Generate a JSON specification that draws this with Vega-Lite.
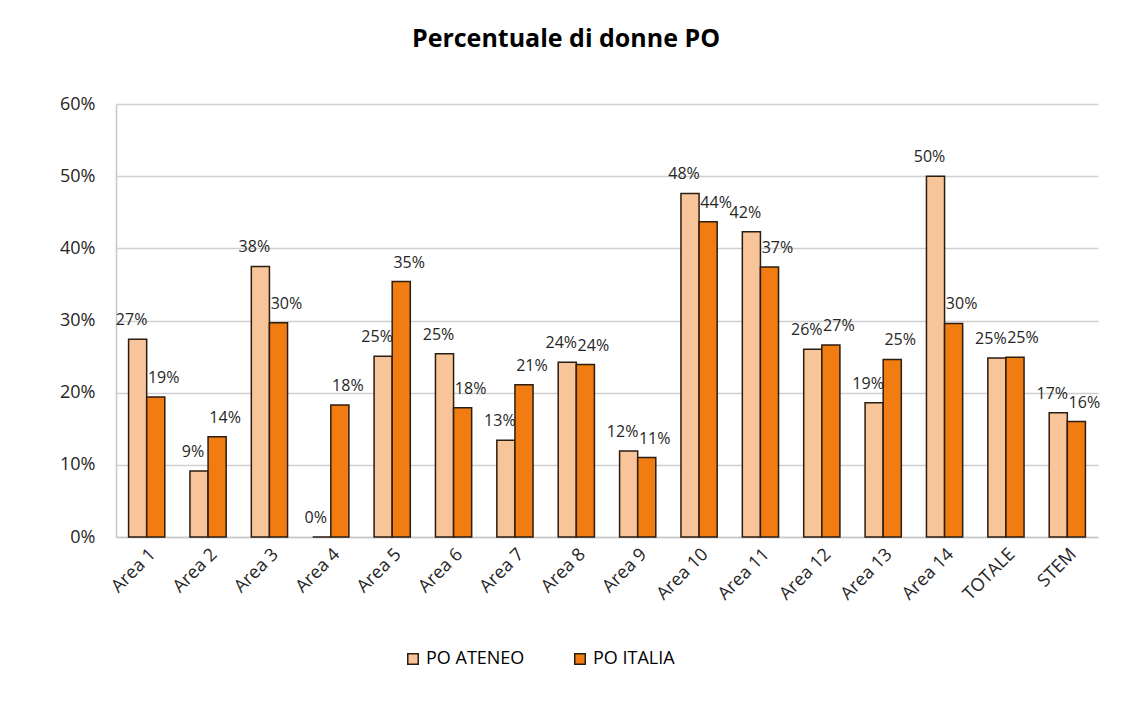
{
  "$schema": "https://vega.github.io/schema/vega-lite/v6.json",
  "autosize": {"type": "none"},
  "width": 982,
  "height": 433,
  "padding": {"left": 116, "top": 104, "right": 34, "bottom": 164},
  "background": "white",
  "title": {
    "text": "Percentuale di donne PO",
    "font": "Open Sans",
    "fontSize": 25,
    "fontWeight": "bold",
    "color": "#000000",
    "anchor": "middle",
    "dx": -41,
    "offset": 43
  },
  "data": {
    "values": [
      {"area": "Area 1", "serie": "PO ATENEO", "v": 0.274},
      {"area": "Area 1", "serie": "PO ITALIA", "v": 0.194},
      {"area": "Area 2", "serie": "PO ATENEO", "v": 0.0915},
      {"area": "Area 2", "serie": "PO ITALIA", "v": 0.139},
      {"area": "Area 3", "serie": "PO ATENEO", "v": 0.375},
      {"area": "Area 3", "serie": "PO ITALIA", "v": 0.297},
      {"area": "Area 4", "serie": "PO ATENEO", "v": 0.0},
      {"area": "Area 4", "serie": "PO ITALIA", "v": 0.183},
      {"area": "Area 5", "serie": "PO ATENEO", "v": 0.2505},
      {"area": "Area 5", "serie": "PO ITALIA", "v": 0.354},
      {"area": "Area 6", "serie": "PO ATENEO", "v": 0.254},
      {"area": "Area 6", "serie": "PO ITALIA", "v": 0.179},
      {"area": "Area 7", "serie": "PO ATENEO", "v": 0.134},
      {"area": "Area 7", "serie": "PO ITALIA", "v": 0.211},
      {"area": "Area 8", "serie": "PO ATENEO", "v": 0.242},
      {"area": "Area 8", "serie": "PO ITALIA", "v": 0.239},
      {"area": "Area 9", "serie": "PO ATENEO", "v": 0.119},
      {"area": "Area 9", "serie": "PO ITALIA", "v": 0.11},
      {"area": "Area 10", "serie": "PO ATENEO", "v": 0.476},
      {"area": "Area 10", "serie": "PO ITALIA", "v": 0.437},
      {"area": "Area 11", "serie": "PO ATENEO", "v": 0.423},
      {"area": "Area 11", "serie": "PO ITALIA", "v": 0.374},
      {"area": "Area 12", "serie": "PO ATENEO", "v": 0.26},
      {"area": "Area 12", "serie": "PO ITALIA", "v": 0.266},
      {"area": "Area 13", "serie": "PO ATENEO", "v": 0.186},
      {"area": "Area 13", "serie": "PO ITALIA", "v": 0.246},
      {"area": "Area 14", "serie": "PO ATENEO", "v": 0.5},
      {"area": "Area 14", "serie": "PO ITALIA", "v": 0.296},
      {"area": "TOTALE", "serie": "PO ATENEO", "v": 0.248},
      {"area": "TOTALE", "serie": "PO ITALIA", "v": 0.249},
      {"area": "STEM", "serie": "PO ATENEO", "v": 0.172},
      {"area": "STEM", "serie": "PO ITALIA", "v": 0.16}
    ]
  },
  "encoding": {
    "x": {
      "field": "area",
      "type": "nominal",
      "sort": null,
      "scale": {"paddingInner": 0.41, "paddingOuter": 0.205},
      "axis": {
        "title": null,
        "labelAngle": -45,
        "labelFont": "Open Sans",
        "labelFontSize": 18,
        "labelColor": "#262626",
        "labelPadding": 8,
        "ticks": false,
        "domainColor": "#c8c8c8",
        "domainWidth": 1.5
      }
    },
    "xOffset": {"field": "serie", "type": "nominal", "sort": ["PO ATENEO", "PO ITALIA"]},
    "y": {
      "field": "v",
      "type": "quantitative",
      "scale": {"domain": [0, 0.6], "nice": false},
      "axis": {
        "title": null,
        "format": ".0%",
        "values": [0, 0.1, 0.2, 0.3, 0.4, 0.5, 0.6],
        "labelFont": "Open Sans",
        "labelFontSize": 18,
        "labelColor": "#262626",
        "labelPadding": 21,
        "ticks": false,
        "domain": true,
        "domainColor": "#c8c8c8",
        "domainWidth": 1.5,
        "grid": true,
        "gridColor": "#d0d0d0",
        "gridWidth": 1.5
      }
    }
  },
  "layer": [
    {
      "mark": {"type": "bar", "stroke": "#2b1d10", "strokeWidth": 1.5},
      "encoding": {
        "color": {
          "field": "serie",
          "type": "nominal",
          "sort": ["PO ATENEO", "PO ITALIA"],
          "scale": {"domain": ["PO ATENEO", "PO ITALIA"], "range": ["#F8C49A", "#F07C12"]},
          "legend": {
            "title": null,
            "orient": "none",
            "direction": "horizontal",
            "legendX": 288,
            "legendY": 546,
            "symbolType": "square",
            "symbolSize": 110,
            "symbolStrokeColor": "#2b1d10",
            "symbolStrokeWidth": 1.5,
            "labelFont": "Open Sans",
            "labelFontSize": 18,
            "labelColor": "#000000",
            "labelOffset": 4,
            "columnPadding": 46
          }
        }
      }
    },
    {
      "transform": [{"filter": "datum.serie == 'PO ATENEO'"}],
      "mark": {
        "type": "text",
        "font": "Open Sans",
        "fontSize": 16,
        "color": "#262626",
        "baseline": "middle",
        "dy": -19,
        "dx": -6
      },
      "encoding": {
        "text": {"field": "v", "type": "quantitative", "format": ".0%"}
      }
    },
    {
      "transform": [{"filter": "datum.serie == 'PO ITALIA'"}],
      "mark": {
        "type": "text",
        "font": "Open Sans",
        "fontSize": 16,
        "color": "#262626",
        "baseline": "middle",
        "dy": -19,
        "dx": 8
      },
      "encoding": {
        "text": {"field": "v", "type": "quantitative", "format": ".0%"}
      }
    }
  ],
  "config": {
    "view": {"stroke": null}
  }
}
